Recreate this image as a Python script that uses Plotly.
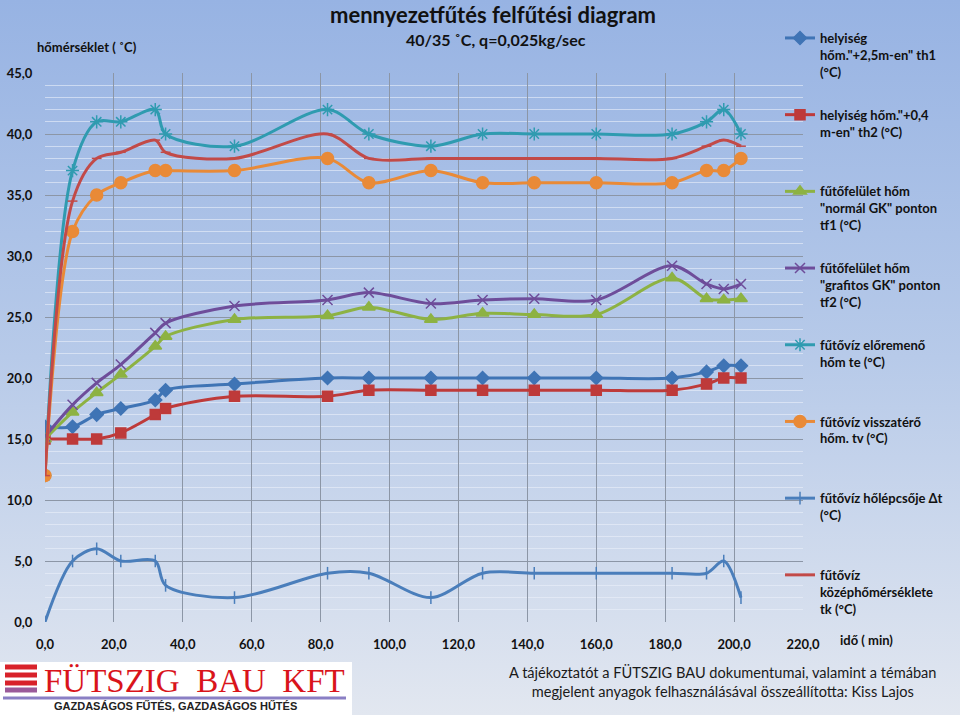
import base64
import plotly.graph_objects as go

# ---------------- data ----------------
time_min = [0, 8, 15, 22, 32, 35, 55, 82, 94, 112, 127, 142, 160, 182, 192, 197, 202]

th1 = [16.0, 16.0, 17.0, 17.5, 18.2, 19.0, 19.5, 20.0, 20.0, 20.0, 20.0, 20.0, 20.0, 20.0, 20.5, 21.0, 21.0]
th2 = [15.0, 15.0, 15.0, 15.5, 17.0, 17.5, 18.5, 18.5, 19.0, 19.0, 19.0, 19.0, 19.0, 19.0, 19.5, 20.0, 20.0]
tf1 = [15.0, 17.2, 18.8, 20.3, 22.6, 23.4, 24.8, 25.1, 25.8, 24.8, 25.3, 25.2, 25.2, 28.2, 26.5, 26.4, 26.5]
tf2 = [15.2, 17.8, 19.6, 21.1, 23.7, 24.5, 25.9, 26.4, 27.0, 26.1, 26.4, 26.5, 26.4, 29.2, 27.7, 27.3, 27.7]
te = [12.0, 37.0, 41.0, 41.0, 42.0, 40.0, 39.0, 42.0, 40.0, 39.0, 40.0, 40.0, 40.0, 40.0, 41.0, 42.0, 40.0]
tv = [12.0, 32.0, 35.0, 36.0, 37.0, 37.0, 37.0, 38.0, 36.0, 37.0, 36.0, 36.0, 36.0, 36.0, 37.0, 37.0, 38.0]
dt = [0.0, 5.0, 6.0, 5.0, 5.0, 3.0, 2.0, 4.0, 4.0, 2.0, 4.0, 4.0, 4.0, 4.0, 4.0, 5.0, 2.0]
tk = [12.0, 34.5, 38.0, 38.5, 39.5, 38.5, 38.0, 40.0, 38.0, 38.0, 38.0, 38.0, 38.0, 38.0, 39.0, 39.5, 39.0]

series_names = [
    'helyiség<br>hőm."+2,5m-en" th1<br>(°C)',
    'helyiség hőm."+0,4<br>m-en" th2 (°C)<br> ',
    'fűtőfelület hőm<br>"normál GK" ponton<br>tf1 (°C)',
    'fűtőfelület hőm<br>"grafitos GK" ponton<br>tf2 (°C)',
    'fűtővíz előremenő<br>hőm te (°C)<br> ',
    'fűtővíz visszatérő<br>hőm. tv (°C)<br> ',
    'fűtővíz hőlépcsője Δt<br>(°C)<br> ',
    'fűtővíz<br>középhőmérséklete<br>tk (°C)',
]
series_values = [th1, th2, tf1, tf2, te, tv, dt, tk]
series_colors = ["#3f74b5", "#be3a3a", "#8db243", "#6e4d9a", "#2f9bb0", "#e98a37", "#4a7ebb", "#c24a48"]
series_symbols = ["diamond", "square", "triangle-up", "x-thin-open", "asterisk-open", "circle",
                  "line-ns-open", "line-ew-open"]
series_msize = [10, 10, 11, 10, 11, 12, 9, 7]

x_ticks = [0, 20, 40, 60, 80, 100, 120, 140, 160, 180, 200, 220]
y_ticks = [0, 5, 10, 15, 20, 25, 30, 35, 40, 45]

title = "mennyezetfűtés felfűtési diagram"
subtitle = "40/35 ˚C, q=0,025kg/sec"
y_label = "hőmérséklet ( ˚C)"
x_label = "idő ( min)"
footer = "A tájékoztatót a FÜTSZIG BAU dokumentumai, valamint a témában<br>megjelent anyagok felhasználásával összeállította: Kiss Lajos"

# ---------------- layout helpers ----------------
W, H = 960, 715
L, R, T, B = 45, 803, 73, 622


def px(x):
    return (x - L) / (R - L)


def py(y):
    return (B - y) / (B - T)


FONT = "Lato, 'Open Sans', sans-serif"

fig = go.Figure()
for name, vals, col, sym, ms in zip(series_names, series_values, series_colors, series_symbols, series_msize):
    fig.add_trace(go.Scatter(
        x=time_min, y=vals, name=name, mode="lines+markers",
        line=dict(color=col, width=3, shape="spline", smoothing=0.9),
        marker=dict(symbol=sym, size=ms, color=col, line=dict(color=col, width=1.5)),
        legendgroup=name,
    ))

# gradient background via svg image
svg = ('<svg xmlns="http://www.w3.org/2000/svg" width="960" height="715" viewBox="0 0 960 715" '
       'preserveAspectRatio="none">'
       '<defs><linearGradient id="g" x1="0" y1="0" x2="0" y2="1">'
       '<stop offset="0" stop-color="#97b3e3"/>'
       '<stop offset="0.5" stop-color="#b7cae9"/>'
       '<stop offset="1" stop-color="#e2e7f0"/>'
       '</linearGradient></defs>'
       '<rect width="960" height="715" fill="url(#g)"/></svg>')
svg_uri = "data:image/svg+xml;base64," + base64.b64encode(svg.encode()).decode()

shapes = []
# logo white box
shapes.append(dict(type="rect", xref="paper", yref="paper", x0=px(0), x1=px(352), y0=py(715), y1=py(662),
                   fillcolor="white", line=dict(width=0), layer="above"))
# logo stripes
for yy, c in [(667, "#d8222a"), (675, "#d8222a"), (683, "#d8222a"), (690, "#9a5a9a")]:
    shapes.append(dict(type="line", xref="paper", yref="paper", x0=px(5), x1=px(37), y0=py(yy), y1=py(yy),
                       line=dict(color=c, width=5), layer="above"))
shapes.append(dict(type="line", xref="paper", yref="paper", x0=px(3), x1=px(346), y0=py(698), y1=py(698),
                   line=dict(color="#8a7fc4", width=3), layer="above"))

annotations = [
    dict(text="<b>" + title + "</b>", x=px(493), y=py(14), xref="paper", yref="paper",
         showarrow=False, font=dict(size=22, color="#111", family=FONT), xanchor="center", yanchor="middle"),
    dict(text="<b>" + subtitle + "</b>", x=px(496), y=py(40), xref="paper", yref="paper",
         showarrow=False, font=dict(size=16, color="#111", family=FONT), xanchor="center", yanchor="middle"),
    dict(text="<b>" + y_label + "</b>", x=px(35), y=py(47), xref="paper", yref="paper",
         showarrow=False, font=dict(size=13, color="#111", family=FONT), xanchor="left", yanchor="middle"),
    dict(text="<b>" + x_label + "</b>", x=px(838), y=py(640), xref="paper", yref="paper",
         showarrow=False, font=dict(size=13, color="#111", family=FONT), xanchor="left", yanchor="middle"),
    dict(text=footer, x=px(723), y=py(682), xref="paper", yref="paper",
         showarrow=False, font=dict(size=14.6, color="#1a1a1a", family=FONT), xanchor="center", yanchor="middle",
         align="center"),
    dict(text="FÜTSZIG  BAU  KFT", x=px(194), y=py(681), xref="paper", yref="paper",
         showarrow=False, font=dict(size=33, color="#d9141b", family="'Liberation Serif', 'DejaVu Serif', serif"),
         xanchor="center", yanchor="middle"),
    dict(text="<b>GAZDASÁGOS FŰTÉS, GAZDASÁGOS HŰTÉS</b>", x=px(175), y=py(706), xref="paper", yref="paper",
         showarrow=False, font=dict(size=11, color="#222", family="'Liberation Sans', Arial, sans-serif"),
         xanchor="center", yanchor="middle"),
]

fig.update_layout(
    width=W, height=H,
    margin=dict(l=L, r=W - R, t=T, b=H - B, autoexpand=False),
    paper_bgcolor="#b7cae9",
    plot_bgcolor="rgba(0,0,0,0)",
    separators=", ",
    font=dict(family=FONT, color="#111"),
    images=[dict(source=svg_uri, xref="paper", yref="paper", x=px(0), y=py(0), sizex=px(W) - px(0),
                 sizey=py(0) - py(H), xanchor="left", yanchor="top", sizing="stretch", layer="below")],
    shapes=shapes,
    annotations=annotations,
    showlegend=True,
    legend=dict(
        xref="container", yref="container", x=780 / W, y=1 - 23 / H, xanchor="left", yanchor="top",
        bgcolor="rgba(0,0,0,0)", font=dict(size=13, color="#111", family=FONT, weight="bold"),
        valign="top", tracegroupgap=23, itemwidth=30, maxheight=700,
    ),
    xaxis=dict(
        range=[0, 220], tickvals=x_ticks, tickformat=".1f", showgrid=True, gridcolor="#8c96a6", gridwidth=1,
        zeroline=False, showline=False, ticks="outside", ticklen=10, tickcolor="rgba(0,0,0,0)",
        tickfont=dict(size=13, family=FONT, weight="bold", color="#111"), fixedrange=True,
    ),
    yaxis=dict(
        range=[0, 45], tickvals=y_ticks, tickformat=".1f", showgrid=True, gridcolor="#8c96a6", gridwidth=1,
        zeroline=False, showline=False, ticks="outside", ticklen=9, tickcolor="rgba(0,0,0,0)",
        tickfont=dict(size=13, family=FONT, weight="bold", color="#111"),
        minor=dict(dtick=1, showgrid=True, gridcolor="rgba(235,240,250,0.6)", gridwidth=1),
    ),
)

fig.write_html("out.html", config={"displayModeBar": False},
               post_script="document.body.style.margin='0';document.body.style.padding='0';")
